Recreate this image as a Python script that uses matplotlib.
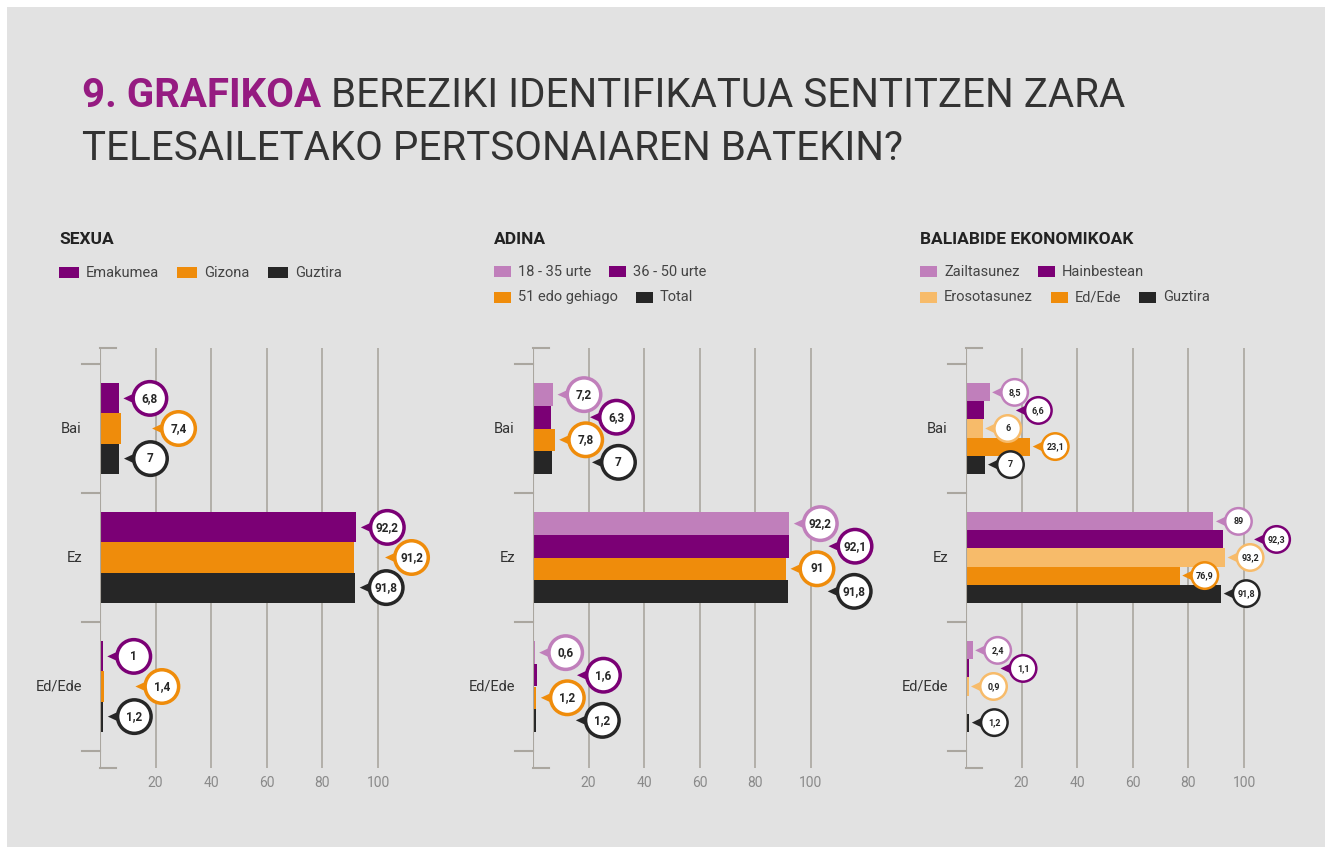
import numpy as np
import matplotlib
matplotlib.use("Agg")
import matplotlib.pyplot as plt
from matplotlib.patches import Rectangle, Circle, Polygon
from matplotlib.transforms import ScaledTranslation

plt.rcParams["font.family"] = ["Roboto", "DejaVu Sans"]

# ---- data ----
categories = ["Bai", "Ez", "Ed/Ede"]

sexua_series = ["Emakumea", "Gizona", "Guztira"]
sexua_values = [
    [6.8, 92.2, 1.0],
    [7.4, 91.2, 1.4],
    [7.0, 91.8, 1.2],
]

adina_series = ["18 - 35 urte", "36 - 50 urte", "51 edo gehiago", "Total"]
adina_values = [
    [7.2, 92.2, 0.6],
    [6.3, 92.1, 1.6],
    [7.8, 91.0, 1.2],
    [7.0, 91.8, 1.2],
]

baliabide_series = ["Zailtasunez", "Hainbestean", "Erosotasunez", "Ed/Ede", "Guztira"]
baliabide_values = [
    [8.5, 89.0, 2.4],
    [6.6, 92.3, 1.1],
    [6.0, 93.2, 0.9],
    [23.1, 76.9, np.nan],
    [7.0, 91.8, 1.2],
]

xticks = [20, 40, 60, 80, 100]

# ---- style ----
PURPLE_L = "#c07fbb"
PURPLE = "#7b0075"
ORANGE_L = "#f7bb6a"
ORANGE = "#ef8c0b"
BLACK = "#262626"
BG = "#e2e2e2"
GRID = "#aaa69f"
TITLE_PURPLE = "#951b81"
DARK = "#333333"

W, H, DPI = 1325, 847, 100
fig = plt.figure(figsize=(W / DPI, H / DPI), dpi=DPI, facecolor="white")
fig.patches.append(Rectangle((7 / W, 0), 1 - 7 / W, 1 - 7 / H, transform=fig.transFigure,
                             facecolor=BG, edgecolor="none", zorder=-10))


def px(x, y):
    return x / W, 1 - y / H


# title
TFS = 29
t1 = fig.text(*px(82, 107), "9. GRAFIKOA", fontsize=TFS, fontweight="bold",
              color=TITLE_PURPLE, va="baseline", ha="left")
fig.canvas.draw()
bb = t1.get_window_extent()
fig.text(bb.x1 / W + 10 / W, 1 - 107 / H, "BEREZIKI IDENTIFIKATUA SENTITZEN ZARA",
         fontsize=TFS, fontweight="normal", color=DARK, va="baseline", ha="left")
fig.text(*px(82, 160), "TELESAILETAKO PERTSONAIAREN BATEKIN?", fontsize=TFS,
         fontweight="normal", color=DARK, va="baseline", ha="left")

panels = [
    dict(title="SEXUA", series=sexua_series, values=sexua_values,
         colors=[PURPLE, ORANGE, BLACK], x0=100, tx=59, rows=[[0, 1, 2]], big=True, far=58),
    dict(title="ADINA", series=adina_series, values=adina_values,
         colors=[PURPLE_L, PURPLE, ORANGE, BLACK], x0=533, tx=494, rows=[[0, 1], [2, 3]],
         big=True, far=66),
    dict(title="BALIABIDE EKONOMIKOAK", series=baliabide_series, values=baliabide_values,
         colors=[PURPLE_L, PURPLE, ORANGE_L, ORANGE, BLACK], x0=966, tx=920,
         rows=[[0, 1], [2, 3, 4]], big=False, far=54),
]

XMAX = 120
PX_PER_UNIT = 2.78
TOP, BOTTOM = 348, 768
SEP_TOP, SEP_BOT = 364, 751

for p in panels:
    ax_w = XMAX * PX_PER_UNIT
    ax = fig.add_axes([p["x0"] / W, 1 - BOTTOM / H, ax_w / W, (BOTTOM - TOP) / H])
    ax.set_facecolor("none")
    unit = (SEP_BOT - SEP_TOP) / 3.0
    ylo = 3 + (BOTTOM - SEP_BOT) / unit
    yhi = -(SEP_TOP - TOP) / unit
    ax.set_xlim(0, XMAX)
    ax.set_ylim(ylo, yhi)
    for s in ax.spines.values():
        s.set_visible(False)
    ax.set_xticks(xticks)
    ax.set_xticklabels([str(t) for t in xticks])
    ax.tick_params(axis="x", length=0, labelsize=10, labelcolor="#8a8a8a", pad=6)
    ax.set_yticks([])
    for t in xticks:
        ax.axvline(t, color=GRID, lw=1.2, zorder=0)
    # bracket axis
    ax.axvline(0, color=GRID, lw=1.5, zorder=3)
    cap = 16 / PX_PER_UNIT
    ax.plot([0, cap], [yhi, yhi], color=GRID, lw=1.5, clip_on=False, zorder=3)
    ax.plot([0, cap], [ylo, ylo], color=GRID, lw=1.5, clip_on=False, zorder=3)
    for s in range(4):
        ax.plot([-18 / PX_PER_UNIT, 0], [s, s], color=GRID, lw=1.5, clip_on=False)
    for i, c in enumerate(categories):
        ax.text(-6.5, i + 0.5, c, ha="right", va="center", fontsize=10.5, color=DARK)

    n = len(p["series"])
    h = 0.7 / n
    r_out = 18.5 if p["big"] else 14.5
    ring = 3.5 if p["big"] else 2.5
    near = 31 if p["big"] else 25
    far = p["far"]
    fsize = 8.5 if p["big"] else 6.5

    for i in range(len(categories)):
        placed = []
        for j in range(n):
            v = p["values"][j][i]
            yc = i + 0.5 - 0.35 + (j + 0.5) * h
            if np.isnan(v):
                continue
            ax.barh(yc, v, height=h, color=p["colors"][j], zorder=2, linewidth=0)
            # callout placement in pixels: near unless it would hit an earlier one
            bx = v * PX_PER_UNIT
            by = yc * unit
            cx = bx + far
            for cand in (bx + near, bx + far):
                if all(np.hypot(cand - qx, by - qy) >= 2 * r_out + 1 for qx, qy in placed):
                    cx = cand
                    break
            placed.append((cx, by))
            off = cx - bx
            tr = fig.dpi_scale_trans + ScaledTranslation(v, yc, ax.transData)
            rc = (r_out - ring / 2) / DPI
            tip = (off - r_out - 8) / DPI
            base = (off - rc * DPI) / DPI + 0.02
            tri = Polygon([(tip, 0), (base, 5.5 / DPI), (base, -5.5 / DPI)], closed=True,
                          facecolor=p["colors"][j], edgecolor="none", transform=tr,
                          clip_on=False, zorder=4)
            ax.add_patch(tri)
            circ = Circle((off / DPI, 0), rc, facecolor="white", edgecolor=p["colors"][j],
                          lw=ring * 72 / DPI, transform=tr, clip_on=False, zorder=5)
            ax.add_patch(circ)
            lab = f"{v:g}".replace(".", ",")
            ax.annotate(lab, xy=(v, yc), xytext=(off * 72 / DPI, 0), textcoords="offset points",
                        ha="center", va="center", fontsize=fsize, fontweight="bold",
                        color=BLACK, zorder=6, annotation_clip=False)

    # panel heading
    fig.text(*px(p["tx"], 240), p["title"], fontsize=12.5, fontweight="bold",
             color="#222222", va="center", ha="left")
    # legend
    ys = [272, 297] if len(p["rows"]) > 1 else [273]
    for r, row in enumerate(p["rows"]):
        x = p["tx"]
        y = ys[r]
        for k in row:
            sw = 20 if len(p["rows"]) == 1 else 17
            fig.patches.append(Rectangle(px(x, y + 5.5), sw / W, 11 / H, transform=fig.transFigure,
                                         facecolor=p["colors"][k], edgecolor="none"))
            t = fig.text(*px(x + sw + 7, y), p["series"][k], fontsize=10.5, color="#444444",
                         va="center", ha="left")
            fig.canvas.draw()
            x = t.get_window_extent().x1 + 18

fig.savefig("out.png", dpi=DPI, facecolor="white")
